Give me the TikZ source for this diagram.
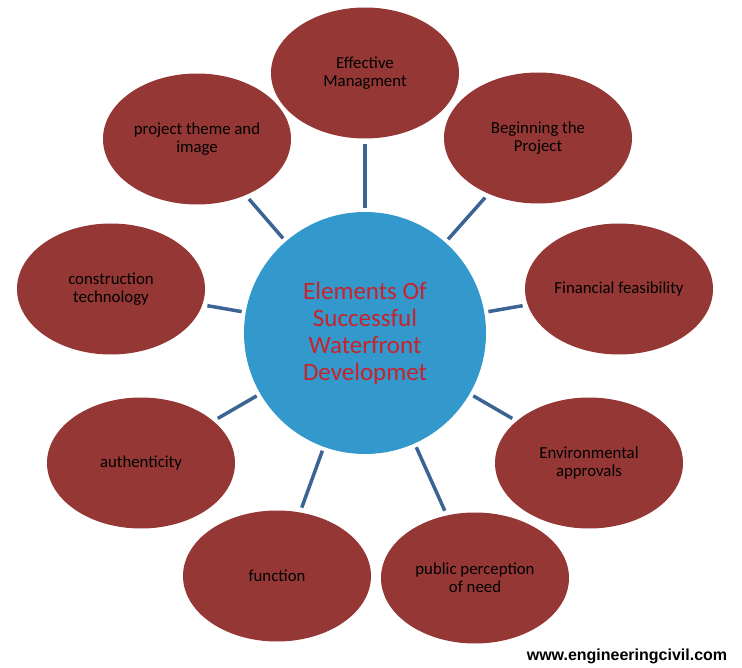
\documentclass[tikz,border=0pt]{standalone}
\usepackage{fontspec}
\setmainfont{Carlito}
\newfontfamily\webfont{Liberation Sans}
\usetikzlibrary{shapes.geometric}
\definecolor{bubblered}{HTML}{953735}
\definecolor{hubblue}{HTML}{3398CC}
\definecolor{linkblue}{HTML}{3B6494}
\definecolor{hubtext}{HTML}{C8232B}

\begin{document}
\begin{tikzpicture}[x=1pt, y=-1pt,
  bubble/.style={ellipse, fill=bubblered, minimum width=188pt, minimum height=131pt, inner sep=0pt, align=center, text=black, font=\fontsize{16.8}{18}\selectfont},
  hub/.style={circle, fill=hubblue, minimum size=242pt, inner sep=0pt, align=center, text=hubtext, font=\fontsize{25}{27}\selectfont},
  link/.style={draw=linkblue, line width=3.5pt, shorten <=4pt, shorten >=5pt}]
\useasboundingbox (0,0) rectangle (742,668);

% centre circle
\node[hub] (Hub) at (365,333) {Elements Of\\Successful\\Waterfront\\Developmet};

% elements round the centre
\node[bubble] (Manage) at (365,73) {Effective\\Managment};
\node[bubble] (Begin) at (538,138) {Beginning the\\Project};
\node[bubble] (Finance) at (619,289) {Financial feasibility};
\node[bubble] (Enviro) at (589,463) {Environmental\\approvals};
\node[bubble] (Public) at (475,578) {public perception\\of need};
\node[bubble] (Function) at (277,576) {function};
\node[bubble] (Authentic) at (141,463) {authenticity};
\node[bubble] (Construct) at (111,289) {construction\\technology};
\node[bubble] (Theme) at (197,139) {project theme and\\image};

% spokes
\draw[link] (Hub) -- (Manage);
\draw[link] (Hub) -- (Begin);
\draw[link] (Hub) -- (Finance);
\draw[link] (Hub) -- (Enviro);
\draw[link] (Hub) -- (Public);
\draw[link] (Hub) -- (Function);
\draw[link] (Hub) -- (Authentic);
\draw[link] (Hub) -- (Construct);
\draw[link] (Hub) -- (Theme);

% site name
\node[font=\webfont\bfseries\fontsize{16}{18}\selectfont] (Site) at (627,656) {www.engineeringcivil.com};
\end{tikzpicture}
\end{document}
